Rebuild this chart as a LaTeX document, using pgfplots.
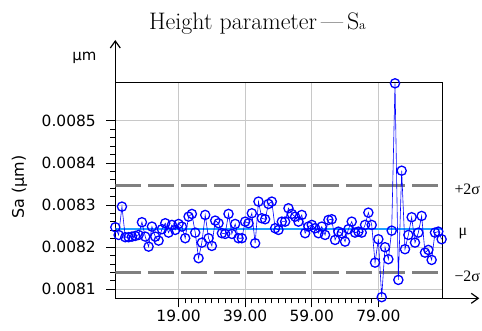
\documentclass[border=0pt]{standalone}
\usepackage{fontspec}
\setsansfont{DejaVu Sans}
\newfontfamily\greekserif{Liberation Serif}
\usepackage{pgfplots}
\usepackage{pgfplotstable}
\pgfplotsset{compat=1.18}
\usetikzlibrary{arrows.meta}

\definecolor{ptblue}{RGB}{0,0,255}
\definecolor{meanblue}{RGB}{30,160,255}
\definecolor{gridgray}{RGB}{200,200,200}
\definecolor{limgray}{RGB}{128,128,128}

% Sa per measurement
\pgfplotstableread{
x y
0 0.0082475
1 0.0082292
2 0.0082965
3 0.0082238
4 0.0082238
5 0.0082252
6 0.0082268
7 0.0082292
8 0.0082594
9 0.0082252
10 0.0082014
11 0.0082490
12 0.0082252
13 0.0082157
14 0.0082428
15 0.0082570
16 0.0082347
17 0.0082530
18 0.0082411
19 0.0082553
20 0.0082490
21 0.0082214
22 0.0082727
23 0.0082791
24 0.0082347
25 0.0081739
26 0.0082109
27 0.0082767
28 0.0082214
29 0.0082031
30 0.0082633
31 0.0082570
32 0.0082333
33 0.0082316
34 0.0082791
35 0.0082316
36 0.0082553
37 0.0082214
38 0.0082214
39 0.0082608
40 0.0082570
41 0.0082807
42 0.0082095
43 0.0083084
44 0.0082688
45 0.0082665
46 0.0083028
47 0.0083084
48 0.0082451
49 0.0082411
50 0.0082608
51 0.0082608
52 0.0082926
53 0.0082791
54 0.0082727
55 0.0082608
56 0.0082767
57 0.0082333
58 0.0082490
59 0.0082530
60 0.0082451
61 0.0082333
62 0.0082490
63 0.0082292
64 0.0082648
65 0.0082665
66 0.0082173
67 0.0082371
68 0.0082333
69 0.0082133
70 0.0082428
71 0.0082608
72 0.0082347
73 0.0082371
74 0.0082347
75 0.0082530
76 0.0082822
77 0.0082530
78 0.0081634
79 0.0082190
80 0.0080813
81 0.0082000
82 0.0081715
83 0.0082394
84 0.0085895
85 0.0081223
86 0.0083819
87 0.0081953
88 0.0082292
89 0.0082713
90 0.0082109
91 0.0082347
92 0.0082743
93 0.0081872
94 0.0081936
95 0.0081698
96 0.0082347
97 0.0082371
98 0.0082190
}\sadata

\begin{document}
\begin{tikzpicture}
\useasboundingbox (-115.3bp,-32.7bp) rectangle (366.7bp,298.3bp);
\begin{axis}[
  scale only axis, width=327bp, height=215.6bp,
  at={(0,0)}, anchor=south west,
  xmin=0, xmax=98.2, ymin=0.0080786, ymax=0.008591,
  xtick={19,39,59,79}, minor x tick num=9,
  ytick={0.0081,0.0082,0.0083,0.0084,0.0085}, minor y tick num=4,
  tick pos=left, tick align=outside,
  major tick length=9bp, minor tick length=5bp,
  tick style={black, line width=1bp},
  xmajorgrids, ymajorgrids,
  grid style={gridgray, line width=1bp},
  axis line style={black, line width=1.2bp},
  scaled y ticks=false,
  xticklabel={\pgfmathprintnumber[fixed,fixed zerofill,precision=2,assume math mode=true]{\tick}},
  yticklabel={\pgfmathprintnumber[fixed,fixed zerofill,precision=4,assume math mode=true]{\tick}},
  ticklabel style={font=\sffamily\fontsize{15.5}{17}\selectfont},
  yticklabel style={xshift=-7bp},
  xticklabel style={yshift=1bp},
  clip mode=individual,
]
\addplot[limgray, line width=3bp, dash pattern=on 25.5bp off 7.5bp, forget plot]
  coordinates {(0,0.0083468) (98.2,0.0083468)};
\addplot[limgray, line width=3bp, dash pattern=on 25.5bp off 7.5bp, forget plot]
  coordinates {(0,0.0081394) (98.2,0.0081394)};
\addplot[meanblue, line width=2bp, forget plot]
  coordinates {(0,0.0082431) (98.2,0.0082431)};
\addplot[ptblue, line width=0.6bp, mark=o, mark size=4.6bp,
  mark options={line width=1.3bp}] table[x=x, y=y] {\sadata};
\end{axis}
% axis arrows
\draw[line width=1.2bp, -{Straight Barb[length=7bp,width=10bp]}] (0,215.6bp) -- (0,258.3bp);
\draw[line width=1.2bp, -{Straight Barb[length=7bp,width=10bp]}] (327bp,0) -- (364bp,0);
% labels
\node[anchor=base, inner sep=0, font=\fontsize{24}{27}\selectfont] at (142.2bp,269bp)
  {Height parameter\,---\,S{\fontsize{13.5}{14}\selectfont a}};
\node[inner sep=0, font=\sffamily\fontsize{15}{16}\selectfont] at (-30.8bp,240.3bp) {µm};
\node[rotate=90, inner sep=0, font=\sffamily\fontsize{16}{18}\selectfont] at (-95.8bp,111.3bp) {Sa (µm)};
\node[anchor=base west, inner sep=0, font=\greekserif\fontsize{16}{18}\selectfont] at (339bp,103.3bp) {+2σ};
\node[anchor=base west, inner sep=0, font=\greekserif\fontsize{16}{18}\selectfont] at (343bp,62.3bp) {μ};
\node[anchor=base west, inner sep=0, font=\greekserif\fontsize{16}{18}\selectfont] at (339bp,16.6bp) {−2σ};
\end{tikzpicture}
\end{document}
